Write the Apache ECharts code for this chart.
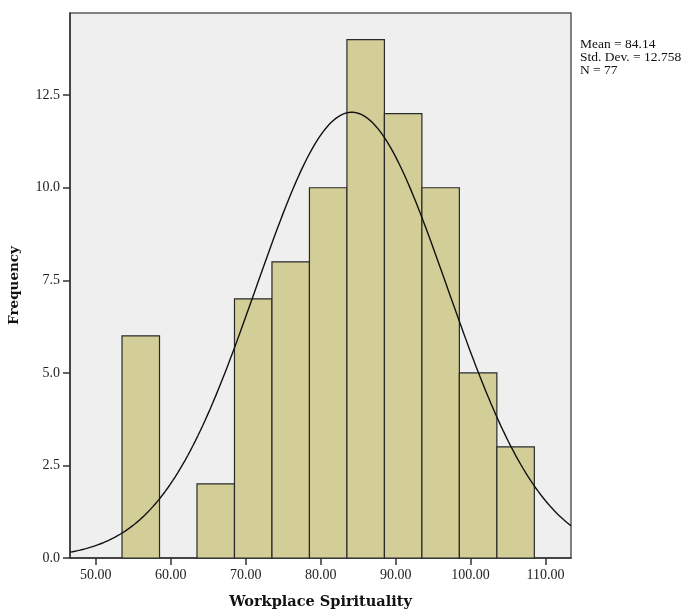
<!DOCTYPE html>
<html>
<head>
<meta charset="utf-8">
<script src="https://cdn.jsdelivr.net/npm/echarts@6/dist/echarts.min.js"></script>
<style>
  html, body { margin: 0; padding: 0; background: #fff; }
  #chart { width: 692px; height: 614px; }
</style>
</head>
<body>
<div id="chart"></div>
<script>
// Histogram of Workplace Spirituality scores (bin width 5) with a fitted normal curve
const binStarts = [53.5, 58.5, 63.5, 68.5, 73.5, 78.5, 83.5, 88.5, 93.5, 98.5, 103.5];
const binWidth = 5;
const frequencies = [6, 0, 2, 7, 8, 10, 14, 12, 10, 5, 3];
const xTicks = [50, 60, 70, 80, 90, 100, 110];
const yTicks = [0, 2.5, 5, 7.5, 10, 12.5];
const stats = { mean: 84.14, sd: 12.758, n: 77 };

const xMin = 46.56, xMax = 113.39, yMax = 14.72;

const bins = binStarts.map((s, i) => [s, s + binWidth, frequencies[i]]);

// Normal density scaled to counts: N * binWidth * pdf(x)
const curve = [];
const steps = 200;
for (let i = 0; i <= steps; i++) {
  const x = xMin + (xMax - xMin) * i / steps;
  const z = (x - stats.mean) / stats.sd;
  const y = stats.n * binWidth * Math.exp(-0.5 * z * z) / (stats.sd * Math.sqrt(2 * Math.PI));
  curve.push([x, y]);
}

const serif = '"Liberation Serif", "DejaVu Serif", serif';
const titleFont = '"DejaVu Serif", "Liberation Serif", serif';
const chart = echarts.init(document.getElementById('chart'), null, { renderer: 'canvas' });

chart.setOption({
  animation: false,
  textStyle: { fontFamily: serif },
  grid: {
    left: 70, right: 121, top: 13, bottom: 56,
    outerBoundsMode: 'none', containLabel: false,
    show: true, backgroundColor: '#efefef', borderColor: '#5a5a5a', borderWidth: 1.5
  },
  xAxis: {
    type: 'value', min: xMin, max: xMax,
    name: 'Workplace Spirituality', nameLocation: 'middle', nameGap: 37,
    nameTextStyle: { fontFamily: titleFont, fontSize: 14.5, fontWeight: 'bold', color: '#111' },
    axisLine: { show: true, lineStyle: { color: '#333', width: 1.5 } },
    axisTick: { show: true, length: 7, customValues: xTicks, lineStyle: { color: '#333', width: 1.5 } },
    axisLabel: {
      customValues: xTicks, margin: 10, color: '#222', fontFamily: serif, fontSize: 14,
      formatter: v => v.toFixed(2)
    },
    splitLine: { show: false }
  },
  yAxis: {
    type: 'value', min: 0, max: yMax,
    name: 'Frequency', nameLocation: 'middle', nameGap: 49, nameRotate: 90,
    nameTextStyle: { fontFamily: titleFont, fontSize: 13.5, fontWeight: 'bold', color: '#111' },
    axisLine: { show: true, lineStyle: { color: '#333', width: 1.5 } },
    axisTick: { show: true, length: 7, customValues: yTicks, lineStyle: { color: '#333', width: 1.5 } },
    axisLabel: {
      customValues: yTicks, margin: 10, color: '#222', fontFamily: serif, fontSize: 14,
      formatter: v => v.toFixed(1)
    },
    splitLine: { show: false }
  },
  series: [
    {
      type: 'custom',
      data: bins,
      renderItem: function (params, api) {
        const p0 = api.coord([api.value(0), 0]);
        const p1 = api.coord([api.value(1), api.value(2)]);
        if (api.value(2) <= 0) return null;
        return {
          type: 'rect',
          shape: { x: p0[0], y: p1[1], width: p1[0] - p0[0], height: p0[1] - p1[1] },
          style: { fill: '#d3ce97', stroke: '#2a2a2a', lineWidth: 1.2 }
        };
      },
      encode: { x: [0, 1], y: 2 },
      z: 2
    },
    {
      type: 'line',
      data: curve,
      showSymbol: false,
      smooth: false,
      lineStyle: { color: '#111', width: 1.4 },
      z: 3
    }
  ],
  graphic: [{
    type: 'text',
    left: 580, top: 37.5,
    style: {
      text: 'Mean = ' + stats.mean.toFixed(2) + '\nStd. Dev. = ' + stats.sd.toFixed(3) + '\nN = ' + stats.n,
      fontFamily: serif, fontSize: 13.5, lineHeight: 13, fill: '#111'
    }
  }]
});
</script>
</body>
</html>
